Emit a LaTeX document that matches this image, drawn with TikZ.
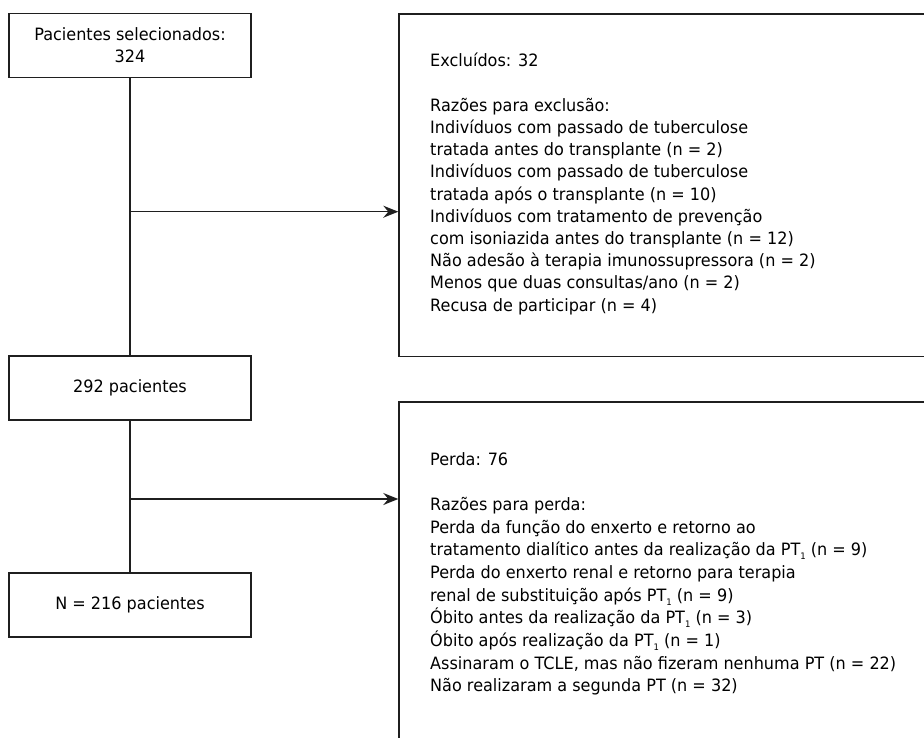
\documentclass[tikz,border=0pt]{standalone}
\usepackage{fontspec}
\setmainfont[FakeStretch=0.945]{DejaVu Sans}
\usetikzlibrary{arrows.meta}
\newcommand{\myidx}[1]{\raisebox{-4pt}{\fontsize{9}{9}\selectfont #1}}
\begin{document}
\begin{tikzpicture}[x=1pt,y=-1pt,
  box/.style={draw=black!88, line width=1.5pt, minimum width=242pt, minimum height=64pt, inner sep=0pt, align=center, font=\fontsize{17}{22}\selectfont},
  bigbox/.style={draw=black!88, line width=1.5pt, minimum width=560pt, anchor=north west, inner sep=0pt},
  txt/.style={anchor=north west, inner sep=0pt, align=left},
  conn/.style={line width=1.3pt, draw=black!88},
  arr/.style={conn, -{Stealth[length=15pt,width=12pt,inset=5pt]}}]
\useasboundingbox (0,0) rectangle (924,737);
\clip (0,0) rectangle (924,737);

\node[box] (sel) at (130,45.3) {Pacientes selecionados:\\324};
\node[box] (p292) at (130,387.9) {292 pacientes};
\node[box] (n216) at (130,605.2) {N = 216 pacientes};

\node[bigbox, minimum height=342.4pt] (excl) at (398.3,13.3) {};
\node[bigbox, minimum height=345pt] (perda) at (398.3,401.3) {};

\node[txt, font=\fontsize{17}{22.2}\selectfont] (excltxt) at (430,51.7) {\rule{0pt}{15pt}Excluídos: 32\\
\mbox{}\\
Razões para exclusão:\\
Indivíduos com passado de tuberculose\\
tratada antes do transplante (n = 2)\\
Indivíduos com passado de tuberculose\\
tratada após o transplante (n = 10)\\
Indivíduos com tratamento de prevenção\\
com isoniazida antes do transplante (n = 12)\\
Não adesão à terapia imunossupressora (n = 2)\\
Menos que duas consultas/ano (n = 2)\\
Recusa de participar (n = 4)};

\node[txt, font=\fontsize{17}{22.67}\selectfont] (perdatxt) at (430,450) {\rule{0pt}{15pt}Perda: 76\\
\mbox{}\\
Razões para perda:\\
Perda da função do enxerto e retorno ao\\
tratamento dialítico antes da realização da PT\myidx{1} (n = 9)\\
Perda do enxerto renal e retorno para terapia\\
renal de substituição após PT\myidx{1} (n = 9)\\
Óbito antes da realização da PT\myidx{1} (n = 3)\\
Óbito após realização da PT\myidx{1} (n = 1)\\
Assinaram o TCLE, mas não fizeram nenhuma PT (n = 22)\\
Não realizaram a segunda PT (n = 32)};

\coordinate (j1) at (130,211.7);
\coordinate (j2) at (130,499);
\draw[conn] (sel.south) -- (p292.north);
\draw[arr] (j1) -- (j1 -| excl.west);
\draw[conn] (p292.south) -- (n216.north);
\draw[arr] (j2) -- (j2 -| perda.west);
\end{tikzpicture}
\end{document}
